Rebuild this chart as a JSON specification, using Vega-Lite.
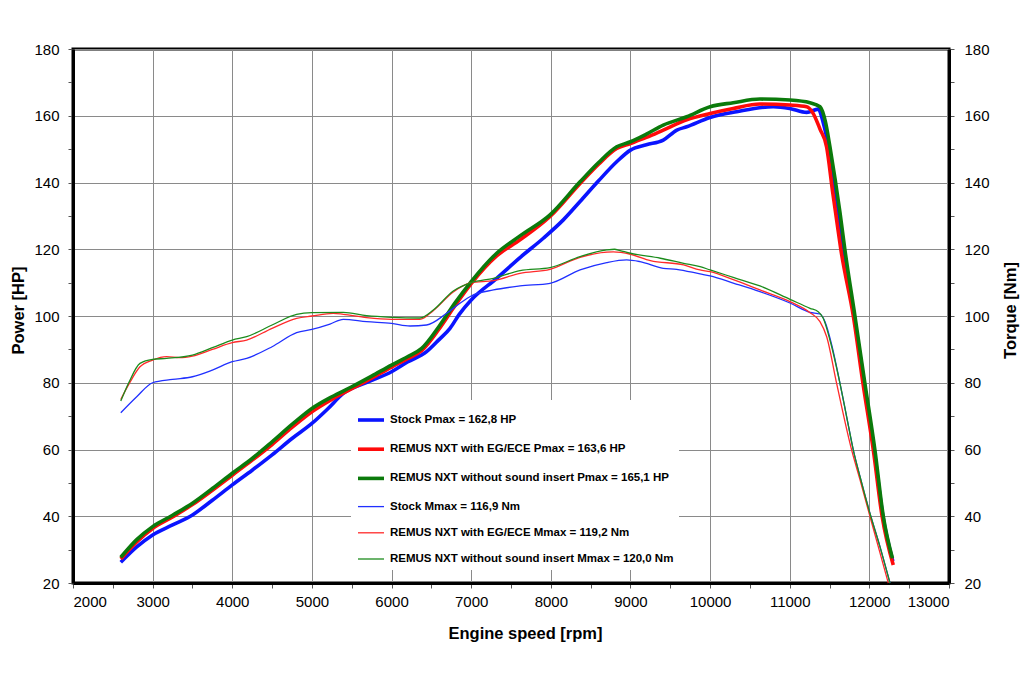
{
  "$schema": "https://vega.github.io/schema/vega-lite/v6.json",
  "width": 876,
  "height": 534,
  "autosize": "none",
  "padding": {"left": 73, "top": 49, "right": 75, "bottom": 100},
  "background": "white",
  "config": {
    "font": "Liberation Sans",
    "view": {"stroke": "#000", "strokeWidth": 3},
    "axis": {
      "labelFont": "Liberation Sans",
      "labelFontSize": 15,
      "labelColor": "#000",
      "titleFont": "Liberation Sans",
      "titleFontSize": 16.5,
      "titleFontWeight": "bold",
      "titleColor": "#000",
      "gridColor": "#8a8a8a",
      "gridWidth": 1,
      "tickColor": "#555",
      "tickSize": 5,
      "domainColor": "#000",
      "domainWidth": 3,
      "labelOverlap": false
    }
  },
  "data": {
    "values": [
      {"s": "P1", "rpm": 2600, "v": 26.2}, {"s": "P1", "rpm": 2800, "v": 30.8}, {"s": "P1", "rpm": 3000, "v": 34.4},
      {"s": "P1", "rpm": 3250, "v": 37.4}, {"s": "P1", "rpm": 3500, "v": 40.4}, {"s": "P1", "rpm": 3750, "v": 44.8},
      {"s": "P1", "rpm": 4000, "v": 49.4}, {"s": "P1", "rpm": 4250, "v": 53.8}, {"s": "P1", "rpm": 4500, "v": 58.4},
      {"s": "P1", "rpm": 4750, "v": 63.3}, {"s": "P1", "rpm": 5000, "v": 67.8}, {"s": "P1", "rpm": 5200, "v": 72.2},
      {"s": "P1", "rpm": 5394, "v": 76.8}, {"s": "P1", "rpm": 5700, "v": 80.2}, {"s": "P1", "rpm": 6000, "v": 83.3},
      {"s": "P1", "rpm": 6200, "v": 86.2}, {"s": "P1", "rpm": 6440, "v": 89.3}, {"s": "P1", "rpm": 6600, "v": 93},
      {"s": "P1", "rpm": 6734, "v": 96.3}, {"s": "P1", "rpm": 6850, "v": 100.5}, {"s": "P1", "rpm": 7000, "v": 104.8},
      {"s": "P1", "rpm": 7320, "v": 111.3}, {"s": "P1", "rpm": 7613, "v": 117.5}, {"s": "P1", "rpm": 7906, "v": 123.3},
      {"s": "P1", "rpm": 8157, "v": 128.8}, {"s": "P1", "rpm": 8367, "v": 134.3}, {"s": "P1", "rpm": 8600, "v": 140.5},
      {"s": "P1", "rpm": 8827, "v": 146.2}, {"s": "P1", "rpm": 9000, "v": 149.7}, {"s": "P1", "rpm": 9200, "v": 151.3},
      {"s": "P1", "rpm": 9412, "v": 152.7}, {"s": "P1", "rpm": 9583, "v": 155.7}, {"s": "P1", "rpm": 9706, "v": 156.7},
      {"s": "P1", "rpm": 10000, "v": 159.5}, {"s": "P1", "rpm": 10333, "v": 161.2}, {"s": "P1", "rpm": 10793, "v": 162.7},
      {"s": "P1", "rpm": 11000, "v": 162.2}, {"s": "P1", "rpm": 11213, "v": 161}, {"s": "P1", "rpm": 11358, "v": 162},
      {"s": "P1", "rpm": 11420, "v": 158}, {"s": "P1", "rpm": 11487, "v": 150.7}, {"s": "P1", "rpm": 11550, "v": 141},
      {"s": "P1", "rpm": 11610, "v": 131.5}, {"s": "P1", "rpm": 11670, "v": 119.8}, {"s": "P1", "rpm": 11810, "v": 99.8},
      {"s": "P1", "rpm": 11935, "v": 79.8}, {"s": "P1", "rpm": 12060, "v": 59.8}, {"s": "P1", "rpm": 12170, "v": 40},
      {"s": "P1", "rpm": 12295, "v": 26.5},

      {"s": "P2", "rpm": 2600, "v": 27.2}, {"s": "P2", "rpm": 2800, "v": 32.3}, {"s": "P2", "rpm": 3000, "v": 36.3},
      {"s": "P2", "rpm": 3250, "v": 39.8}, {"s": "P2", "rpm": 3500, "v": 43.5}, {"s": "P2", "rpm": 3750, "v": 47.8},
      {"s": "P2", "rpm": 4000, "v": 52.3}, {"s": "P2", "rpm": 4250, "v": 56.8}, {"s": "P2", "rpm": 4500, "v": 61.5},
      {"s": "P2", "rpm": 4750, "v": 66.6}, {"s": "P2", "rpm": 5000, "v": 71.3}, {"s": "P2", "rpm": 5250, "v": 75},
      {"s": "P2", "rpm": 5500, "v": 78.2}, {"s": "P2", "rpm": 5750, "v": 81.4}, {"s": "P2", "rpm": 6000, "v": 84.7},
      {"s": "P2", "rpm": 6200, "v": 87.2}, {"s": "P2", "rpm": 6378, "v": 89.6}, {"s": "P2", "rpm": 6600, "v": 96.2},
      {"s": "P2", "rpm": 6800, "v": 103.2}, {"s": "P2", "rpm": 7000, "v": 109.7}, {"s": "P2", "rpm": 7320, "v": 118},
      {"s": "P2", "rpm": 7613, "v": 122.8}, {"s": "P2", "rpm": 7990, "v": 129.8}, {"s": "P2", "rpm": 8367, "v": 139.7},
      {"s": "P2", "rpm": 8600, "v": 145.5}, {"s": "P2", "rpm": 8827, "v": 150.2}, {"s": "P2", "rpm": 9000, "v": 151.7},
      {"s": "P2", "rpm": 9200, "v": 153.5}, {"s": "P2", "rpm": 9412, "v": 155.7}, {"s": "P2", "rpm": 9706, "v": 158.8},
      {"s": "P2", "rpm": 10000, "v": 160.7}, {"s": "P2", "rpm": 10291, "v": 162.2}, {"s": "P2", "rpm": 10626, "v": 163.5},
      {"s": "P2", "rpm": 11003, "v": 163.2}, {"s": "P2", "rpm": 11213, "v": 162.7}, {"s": "P2", "rpm": 11292, "v": 160.8},
      {"s": "P2", "rpm": 11380, "v": 156}, {"s": "P2", "rpm": 11463, "v": 150.7}, {"s": "P2", "rpm": 11540, "v": 137},
      {"s": "P2", "rpm": 11589, "v": 128.8}, {"s": "P2", "rpm": 11643, "v": 119.8}, {"s": "P2", "rpm": 11800, "v": 99.8},
      {"s": "P2", "rpm": 11920, "v": 79.8}, {"s": "P2", "rpm": 12050, "v": 59.8}, {"s": "P2", "rpm": 12160, "v": 40},
      {"s": "P2", "rpm": 12300, "v": 25.4},

      {"s": "P3", "rpm": 2600, "v": 27.7}, {"s": "P3", "rpm": 2800, "v": 33}, {"s": "P3", "rpm": 3000, "v": 36.9},
      {"s": "P3", "rpm": 3250, "v": 40.3}, {"s": "P3", "rpm": 3500, "v": 43.9}, {"s": "P3", "rpm": 3750, "v": 48.3},
      {"s": "P3", "rpm": 4000, "v": 52.9}, {"s": "P3", "rpm": 4250, "v": 57.3}, {"s": "P3", "rpm": 4500, "v": 62.3},
      {"s": "P3", "rpm": 4750, "v": 67.5}, {"s": "P3", "rpm": 5000, "v": 72.3}, {"s": "P3", "rpm": 5250, "v": 75.8},
      {"s": "P3", "rpm": 5500, "v": 78.8}, {"s": "P3", "rpm": 5750, "v": 82}, {"s": "P3", "rpm": 6000, "v": 85.3},
      {"s": "P3", "rpm": 6200, "v": 87.8}, {"s": "P3", "rpm": 6378, "v": 90.3}, {"s": "P3", "rpm": 6600, "v": 97},
      {"s": "P3", "rpm": 6800, "v": 104}, {"s": "P3", "rpm": 7000, "v": 110.3}, {"s": "P3", "rpm": 7320, "v": 118.8},
      {"s": "P3", "rpm": 7613, "v": 124}, {"s": "P3", "rpm": 7990, "v": 130.3}, {"s": "P3", "rpm": 8367, "v": 140.2},
      {"s": "P3", "rpm": 8600, "v": 146}, {"s": "P3", "rpm": 8827, "v": 150.7}, {"s": "P3", "rpm": 9000, "v": 152.2},
      {"s": "P3", "rpm": 9200, "v": 154.5}, {"s": "P3", "rpm": 9412, "v": 157.2}, {"s": "P3", "rpm": 9706, "v": 159.7},
      {"s": "P3", "rpm": 10000, "v": 162.7}, {"s": "P3", "rpm": 10291, "v": 163.9}, {"s": "P3", "rpm": 10626, "v": 165},
      {"s": "P3", "rpm": 11003, "v": 164.7}, {"s": "P3", "rpm": 11255, "v": 163.9}, {"s": "P3", "rpm": 11380, "v": 162.7},
      {"s": "P3", "rpm": 11450, "v": 158}, {"s": "P3", "rpm": 11505, "v": 150.7}, {"s": "P3", "rpm": 11570, "v": 141},
      {"s": "P3", "rpm": 11631, "v": 131}, {"s": "P3", "rpm": 11693, "v": 119.8}, {"s": "P3", "rpm": 11820, "v": 99.8},
      {"s": "P3", "rpm": 11944, "v": 79.8}, {"s": "P3", "rpm": 12070, "v": 59.8}, {"s": "P3", "rpm": 12175, "v": 40},
      {"s": "P3", "rpm": 12290, "v": 27.4},

      {"s": "M1", "rpm": 2600, "v": 71}, {"s": "M1", "rpm": 2800, "v": 75.8}, {"s": "M1", "rpm": 3000, "v": 80},
      {"s": "M1", "rpm": 3250, "v": 81}, {"s": "M1", "rpm": 3500, "v": 81.8}, {"s": "M1", "rpm": 3750, "v": 83.8},
      {"s": "M1", "rpm": 4000, "v": 86.3}, {"s": "M1", "rpm": 4181, "v": 87.3}, {"s": "M1", "rpm": 4500, "v": 90.8},
      {"s": "M1", "rpm": 4808, "v": 95}, {"s": "M1", "rpm": 5000, "v": 96}, {"s": "M1", "rpm": 5227, "v": 97.6},
      {"s": "M1", "rpm": 5394, "v": 99}, {"s": "M1", "rpm": 5687, "v": 98.3}, {"s": "M1", "rpm": 6000, "v": 97.8},
      {"s": "M1", "rpm": 6232, "v": 97}, {"s": "M1", "rpm": 6440, "v": 97.3}, {"s": "M1", "rpm": 6691, "v": 100.8},
      {"s": "M1", "rpm": 6859, "v": 103.8}, {"s": "M1", "rpm": 7000, "v": 106}, {"s": "M1", "rpm": 7280, "v": 107.8},
      {"s": "M1", "rpm": 7613, "v": 109}, {"s": "M1", "rpm": 7990, "v": 109.8}, {"s": "M1", "rpm": 8367, "v": 113.8},
      {"s": "M1", "rpm": 8702, "v": 116}, {"s": "M1", "rpm": 8952, "v": 116.8}, {"s": "M1", "rpm": 9119, "v": 116.3},
      {"s": "M1", "rpm": 9412, "v": 114.3}, {"s": "M1", "rpm": 9580, "v": 114}, {"s": "M1", "rpm": 9873, "v": 112.6},
      {"s": "M1", "rpm": 10000, "v": 112}, {"s": "M1", "rpm": 10300, "v": 109.8}, {"s": "M1", "rpm": 10626, "v": 107.3},
      {"s": "M1", "rpm": 11003, "v": 103.9}, {"s": "M1", "rpm": 11255, "v": 101.1}, {"s": "M1", "rpm": 11380, "v": 100.6},
      {"s": "M1", "rpm": 11443, "v": 98.3}, {"s": "M1", "rpm": 11531, "v": 91}, {"s": "M1", "rpm": 11631, "v": 79.8},
      {"s": "M1", "rpm": 11715, "v": 69.8}, {"s": "M1", "rpm": 11798, "v": 59.9}, {"s": "M1", "rpm": 11882, "v": 51.9},
      {"s": "M1", "rpm": 12007, "v": 40.9}, {"s": "M1", "rpm": 12133, "v": 30.9}, {"s": "M1", "rpm": 12259, "v": 20},

      {"s": "M2", "rpm": 2600, "v": 75}, {"s": "M2", "rpm": 2700, "v": 79.5}, {"s": "M2", "rpm": 2841, "v": 84.8},
      {"s": "M2", "rpm": 3000, "v": 86.8}, {"s": "M2", "rpm": 3176, "v": 87.8}, {"s": "M2", "rpm": 3339, "v": 87.5},
      {"s": "M2", "rpm": 3500, "v": 88}, {"s": "M2", "rpm": 3750, "v": 90}, {"s": "M2", "rpm": 4000, "v": 92},
      {"s": "M2", "rpm": 4181, "v": 92.8}, {"s": "M2", "rpm": 4500, "v": 96.3}, {"s": "M2", "rpm": 4808, "v": 99.3},
      {"s": "M2", "rpm": 5000, "v": 100}, {"s": "M2", "rpm": 5268, "v": 100.8}, {"s": "M2", "rpm": 5394, "v": 100.5},
      {"s": "M2", "rpm": 5687, "v": 99.5}, {"s": "M2", "rpm": 6000, "v": 99}, {"s": "M2", "rpm": 6357, "v": 99},
      {"s": "M2", "rpm": 6524, "v": 101.6}, {"s": "M2", "rpm": 6775, "v": 107.2}, {"s": "M2", "rpm": 7000, "v": 110},
      {"s": "M2", "rpm": 7280, "v": 110.6}, {"s": "M2", "rpm": 7613, "v": 112.8}, {"s": "M2", "rpm": 7990, "v": 114},
      {"s": "M2", "rpm": 8367, "v": 117.6}, {"s": "M2", "rpm": 8785, "v": 119.2}, {"s": "M2", "rpm": 9000, "v": 118.5},
      {"s": "M2", "rpm": 9250, "v": 116.6}, {"s": "M2", "rpm": 9668, "v": 115.3}, {"s": "M2", "rpm": 9873, "v": 113.8},
      {"s": "M2", "rpm": 10000, "v": 113.3}, {"s": "M2", "rpm": 10300, "v": 110.8}, {"s": "M2", "rpm": 10626, "v": 107.8},
      {"s": "M2", "rpm": 11003, "v": 104.3}, {"s": "M2", "rpm": 11255, "v": 101}, {"s": "M2", "rpm": 11380, "v": 98.3},
      {"s": "M2", "rpm": 11464, "v": 93.8}, {"s": "M2", "rpm": 11589, "v": 79.8}, {"s": "M2", "rpm": 11777, "v": 59.9},
      {"s": "M2", "rpm": 11882, "v": 51}, {"s": "M2", "rpm": 12007, "v": 40}, {"s": "M2", "rpm": 12238, "v": 20},

      {"s": "M3", "rpm": 2600, "v": 74.5}, {"s": "M3", "rpm": 2700, "v": 80}, {"s": "M3", "rpm": 2841, "v": 85.8},
      {"s": "M3", "rpm": 3000, "v": 87}, {"s": "M3", "rpm": 3176, "v": 87.3}, {"s": "M3", "rpm": 3500, "v": 88.3},
      {"s": "M3", "rpm": 3750, "v": 90.5}, {"s": "M3", "rpm": 4000, "v": 92.8}, {"s": "M3", "rpm": 4181, "v": 93.8},
      {"s": "M3", "rpm": 4500, "v": 97.3}, {"s": "M3", "rpm": 4808, "v": 100.5}, {"s": "M3", "rpm": 5000, "v": 101},
      {"s": "M3", "rpm": 5394, "v": 101.1}, {"s": "M3", "rpm": 5687, "v": 100.1}, {"s": "M3", "rpm": 6000, "v": 99.6},
      {"s": "M3", "rpm": 6357, "v": 99.4}, {"s": "M3", "rpm": 6524, "v": 101.8}, {"s": "M3", "rpm": 6775, "v": 107.5},
      {"s": "M3", "rpm": 7000, "v": 110}, {"s": "M3", "rpm": 7280, "v": 111.3}, {"s": "M3", "rpm": 7613, "v": 113.6},
      {"s": "M3", "rpm": 7990, "v": 114.5}, {"s": "M3", "rpm": 8367, "v": 117.8}, {"s": "M3", "rpm": 8702, "v": 119.8},
      {"s": "M3", "rpm": 8800, "v": 120}, {"s": "M3", "rpm": 8869, "v": 119.6}, {"s": "M3", "rpm": 9000, "v": 118.8},
      {"s": "M3", "rpm": 9375, "v": 117.3}, {"s": "M3", "rpm": 9668, "v": 115.8}, {"s": "M3", "rpm": 9873, "v": 114.8},
      {"s": "M3", "rpm": 10000, "v": 113.8}, {"s": "M3", "rpm": 10300, "v": 111.5}, {"s": "M3", "rpm": 10626, "v": 109},
      {"s": "M3", "rpm": 11003, "v": 105}, {"s": "M3", "rpm": 11255, "v": 102.3}, {"s": "M3", "rpm": 11358, "v": 101.3},
      {"s": "M3", "rpm": 11421, "v": 99.3}, {"s": "M3", "rpm": 11505, "v": 92.8}, {"s": "M3", "rpm": 11631, "v": 79.8},
      {"s": "M3", "rpm": 11715, "v": 69.8}, {"s": "M3", "rpm": 11798, "v": 59.9}, {"s": "M3", "rpm": 11882, "v": 51.9},
      {"s": "M3", "rpm": 12007, "v": 40.9}, {"s": "M3", "rpm": 12133, "v": 30.9}, {"s": "M3", "rpm": 12259, "v": 20}
    ]
  },
  "encoding": {
    "x": {
      "field": "rpm",
      "type": "quantitative",
      "scale": {"domain": [2000, 13000], "nice": false, "zero": false},
      "axis": {
        "title": "Engine speed [rpm]",
        "values": [2000, 2500, 3000, 3500, 4000, 4500, 5000, 5500, 6000, 6500, 7000, 7500, 8000, 8500, 9000, 9500, 10000, 10500, 11000, 11500, 12000, 12500, 13000],
        "format": "d",
        "labelExpr": "datum.value % 1000 === 0 ? datum.label : ''",
        "gridOpacity": {"condition": {"test": "datum.value % 1000 === 0", "value": 1}, "value": 0},
        "labelPadding": 6,
        "titleX": 452,
        "titleY": 50,
        "titleBaseline": "middle"
      }
    },
    "color": {
      "field": "s",
      "type": "nominal",
      "scale": {
        "domain": ["P1", "P2", "P3", "M1", "M2", "M3"],
        "range": ["#0a14ff", "#ff0a0a", "#0b7a0b", "#2030ff", "#ff2a2a", "#1c8c1c"]
      },
      "legend": {
        "orient": "none",
        "legendX": 278,
        "legendY": 351,
        "direction": "vertical",
        "title": null,
        "fillColor": "white",
        "padding": 5,
        "rowPadding": 6.2,
        "symbolType": "stroke",
        "symbolSize": 676,
        "labelOffset": 4,
        "labelFont": "Liberation Sans",
        "labelFontSize": 11.5,
        "labelFontWeight": "bold",
        "labelColor": "#000",
        "labelLimit": 400,
        "labelExpr": "datum.label === 'P1' ? 'Stock Pmax = 162,8 HP' : datum.label === 'P2' ? 'REMUS NXT with EG/ECE Pmax = 163,6 HP' : datum.label === 'P3' ? 'REMUS NXT without sound insert Pmax = 165,1 HP' : datum.label === 'M1' ? 'Stock Mmax = 116,9 Nm' : datum.label === 'M2' ? 'REMUS NXT with  EG/ECE Mmax = 119,2 Nm' : 'REMUS NXT without sound insert Mmax = 120,0 Nm'"
      }
    },
    "strokeWidth": {
      "field": "s",
      "type": "nominal",
      "scale": {"type": "ordinal", "domain": ["P1", "P2", "P3", "M1", "M2", "M3"], "range": [3.6, 3.6, 3.6, 1.3, 1.3, 1.3]},
      "legend": null
    }
  },
  "layer": [
    {
      "transform": [{"filter": {"field": "s", "oneOf": ["P1", "P2", "P3"]}}],
      "mark": {"type": "line", "interpolate": "monotone"},
      "encoding": {
        "y": {
          "field": "v",
          "type": "quantitative",
          "scale": {"domain": [20, 180], "nice": false, "zero": false},
          "axis": {
            "orient": "left",
            "title": "Power [HP]",
            "values": [20, 30, 40, 50, 60, 70, 80, 90, 100, 110, 120, 130, 140, 150, 160, 170, 180],
            "labelExpr": "datum.value % 20 === 0 ? datum.label : ''",
            "gridOpacity": {"condition": {"test": "datum.value % 20 === 0", "value": 1}, "value": 0},
            "labelPadding": 9,
            "titleX": -55,
            "titleY": 261,
            "titleBaseline": "middle"
          }
        }
      }
    },
    {
      "transform": [{"filter": {"field": "s", "oneOf": ["M1", "M2", "M3"]}}],
      "mark": {"type": "line", "interpolate": "monotone"},
      "encoding": {
        "y": {
          "field": "v",
          "type": "quantitative",
          "scale": {"domain": [20, 180], "nice": false, "zero": false},
          "axis": {
            "orient": "right",
            "title": "Torque [Nm]",
            "grid": false,
            "values": [20, 30, 40, 50, 60, 70, 80, 90, 100, 110, 120, 130, 140, 150, 160, 170, 180],
            "labelExpr": "datum.value % 20 === 0 ? datum.label : ''",
            "labelPadding": 10,
            "titleAngle": 270,
            "titleX": 61,
            "titleY": 261,
            "titleBaseline": "middle"
          }
        }
      }
    }
  ],
  "resolve": {"scale": {"y": "shared"}, "axis": {"y": "independent"}}
}
